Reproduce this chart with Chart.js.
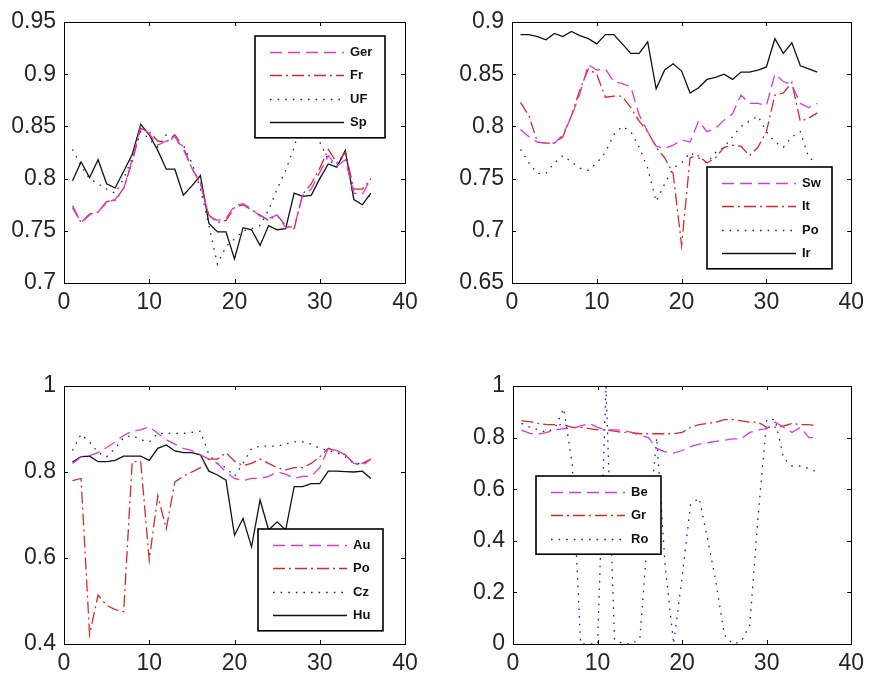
<!DOCTYPE html>
<html>
<head>
<meta charset="utf-8">
<script src="https://cdn.jsdelivr.net/npm/chart.js@4.4.1/dist/chart.umd.min.js"></script>
<style>
  body { margin: 0; background: #fff; }
  #wrap { position: relative; width: 870px; height: 675px; }
  canvas { position: absolute; }
</style>
</head>
<body>
<div id="wrap">
  <canvas id="c1" width="435" height="337" style="left:0;top:0"></canvas>
  <canvas id="c2" width="435" height="337" style="left:435px;top:0"></canvas>
  <canvas id="c3" width="435" height="338" style="left:0;top:337px"></canvas>
  <canvas id="c4" width="435" height="338" style="left:435px;top:337px"></canvas>
</div>
<script>
// x positions (1..36) and axis ticks
const periods = [1, 2, 3, 4, 5, 6, 7, 8, 9, 10, 11, 12, 13, 14, 15, 16, 17, 18,
                 19, 20, 21, 22, 23, 24, 25, 26, 27, 28, 29, 30, 31, 32, 33, 34, 35, 36];
const xTicks = [0, 10, 20, 30, 40];

// panel 1
const p1Labels = ['Ger', 'Fr', 'UF', 'Sp'];
const p1Ger = [0.772, 0.758, 0.765, 0.768, 0.777, 0.780, 0.790, 0.818, 0.850, 0.843, 0.832, 0.836, 0.840, 0.828, 0.810, 0.796, 0.764, 0.760, 0.762, 0.774, 0.776, 0.771, 0.764, 0.762, 0.765, 0.753, 0.754, 0.784, 0.790, 0.806, 0.822, 0.812, 0.818, 0.786, 0.785, 0.800];
const p1Fr  = [0.774, 0.758, 0.766, 0.768, 0.778, 0.779, 0.791, 0.816, 0.848, 0.845, 0.836, 0.835, 0.842, 0.830, 0.810, 0.795, 0.765, 0.758, 0.760, 0.772, 0.775, 0.770, 0.765, 0.760, 0.765, 0.755, 0.752, 0.785, 0.795, 0.810, 0.828, 0.815, 0.825, 0.790, 0.790, 0.800];
const p1UF  = [0.828, 0.812, 0.800, 0.795, 0.790, 0.786, 0.800, 0.820, 0.845, 0.838, 0.830, 0.842, 0.836, 0.832, 0.815, 0.790, 0.755, 0.718, 0.735, 0.742, 0.750, 0.752, 0.755, 0.770, 0.790, 0.808, 0.830, 0.860, 0.855, 0.835, 0.818, 0.812, 0.825, 0.780, 0.775, 0.785];
const p1Sp  = [0.798, 0.816, 0.801, 0.818, 0.795, 0.791, 0.807, 0.823, 0.852, 0.842, 0.827, 0.809, 0.809, 0.784, 0.793, 0.803, 0.757, 0.749, 0.749, 0.723, 0.753, 0.751, 0.736, 0.755, 0.751, 0.752, 0.786, 0.783, 0.784, 0.800, 0.814, 0.811, 0.827, 0.780, 0.775, 0.786];
const p1YTicks = [0.7, 0.75, 0.8, 0.85, 0.9, 0.95];
const p1YLabels = ['0.7', '0.75', '0.8', '0.85', '0.9', '0.95'];

// panel 2
const p2Labels = ['Sw', 'It', 'Po', 'Ir'];
const p2Sw = [0.797, 0.790, 0.785, 0.784, 0.784, 0.792, 0.809, 0.831, 0.859, 0.854, 0.855, 0.843, 0.841, 0.838, 0.811, 0.795, 0.781, 0.779, 0.782, 0.787, 0.785, 0.805, 0.795, 0.798, 0.806, 0.812, 0.830, 0.822, 0.822, 0.820, 0.850, 0.843, 0.840, 0.822, 0.818, 0.822];
const p2It = [0.823, 0.810, 0.785, 0.784, 0.784, 0.790, 0.810, 0.835, 0.855, 0.850, 0.828, 0.829, 0.829, 0.818, 0.805, 0.795, 0.780, 0.770, 0.755, 0.686, 0.770, 0.772, 0.765, 0.770, 0.780, 0.782, 0.781, 0.772, 0.780, 0.795, 0.830, 0.832, 0.842, 0.805, 0.808, 0.813];
const p2Po = [0.778, 0.765, 0.755, 0.755, 0.765, 0.772, 0.766, 0.760, 0.758, 0.765, 0.775, 0.792, 0.800, 0.795, 0.780, 0.760, 0.728, 0.745, 0.760, 0.765, 0.775, 0.770, 0.765, 0.775, 0.780, 0.790, 0.800, 0.805, 0.810, 0.795, 0.785, 0.780, 0.790, 0.795, 0.770, 0.765];
const p2Ir = [0.888, 0.888, 0.886, 0.883, 0.889, 0.886, 0.891, 0.887, 0.884, 0.879, 0.888, 0.888, 0.879, 0.870, 0.870, 0.881, 0.836, 0.854, 0.860, 0.853, 0.832, 0.837, 0.845, 0.847, 0.850, 0.845, 0.852, 0.852, 0.854, 0.857, 0.884, 0.870, 0.880, 0.858, 0.855, 0.852];
const p2YTicks = [0.65, 0.7, 0.75, 0.8, 0.85, 0.9];
const p2YLabels = ['0.65', '0.7', '0.75', '0.8', '0.85', '0.9'];

// panel 3
const p3Labels = ['Au', 'Po', 'Cz', 'Hu'];
const p3Au = [0.820, 0.835, 0.838, 0.845, 0.857, 0.870, 0.885, 0.895, 0.898, 0.905, 0.890, 0.875, 0.865, 0.855, 0.850, 0.840, 0.830, 0.820, 0.800, 0.785, 0.780, 0.785, 0.785, 0.790, 0.800, 0.795, 0.785, 0.790, 0.790, 0.810, 0.855, 0.850, 0.840, 0.820, 0.815, 0.830];
const p3Po = [0.780, 0.785, 0.422, 0.514, 0.490, 0.480, 0.475, 0.824, 0.824, 0.595, 0.745, 0.668, 0.777, 0.790, 0.800, 0.810, 0.830, 0.830, 0.845, 0.825, 0.815, 0.820, 0.830, 0.820, 0.810, 0.805, 0.810, 0.810, 0.820, 0.835, 0.855, 0.848, 0.840, 0.820, 0.820, 0.830];
const p3Cz = [0.850, 0.888, 0.870, 0.845, 0.835, 0.855, 0.880, 0.885, 0.875, 0.870, 0.890, 0.890, 0.890, 0.890, 0.892, 0.895, 0.840, 0.820, 0.810, 0.790, 0.820, 0.855, 0.860, 0.860, 0.860, 0.865, 0.870, 0.870, 0.865, 0.855, 0.850, 0.845, 0.835, 0.820, 0.820, 0.825];
const p3Hu = [0.823, 0.836, 0.837, 0.824, 0.824, 0.827, 0.837, 0.837, 0.837, 0.827, 0.855, 0.863, 0.849, 0.845, 0.845, 0.840, 0.802, 0.793, 0.781, 0.653, 0.692, 0.626, 0.735, 0.665, 0.684, 0.665, 0.766, 0.766, 0.773, 0.773, 0.802, 0.802, 0.801, 0.800, 0.802, 0.785];
const p3YTicks = [0.4, 0.6, 0.8, 1];
const p3YLabels = ['0.4', '0.6', '0.8', '1'];

// panel 4
const p4Labels = ['Be', 'Gr', 'Ro'];
const p4Be = [0.829, 0.816, 0.813, 0.820, 0.830, 0.835, 0.835, 0.845, 0.855, 0.840, 0.830, 0.830, 0.828, 0.820, 0.810, 0.800, 0.758, 0.745, 0.740, 0.750, 0.765, 0.775, 0.780, 0.785, 0.790, 0.795, 0.795, 0.820, 0.830, 0.835, 0.860, 0.840, 0.820, 0.840, 0.800, 0.800];
const p4Gr = [0.865, 0.862, 0.855, 0.850, 0.850, 0.850, 0.840, 0.840, 0.835, 0.830, 0.830, 0.825, 0.820, 0.820, 0.815, 0.815, 0.815, 0.815, 0.815, 0.820, 0.840, 0.850, 0.855, 0.860, 0.870, 0.870, 0.865, 0.860, 0.860, 0.840, 0.840, 0.845, 0.855, 0.850, 0.850, 0.845];
const p4Ro = [0.855, 0.840, 0.830, 0.820, 0.840, 0.913, 0.700, 0.000, 0.000, 0.000, 1.000, 0.020, 0.000, 0.000, 0.020, 0.450, 0.800, 0.300, 0.000, 0.260, 0.540, 0.566, 0.410, 0.240, 0.035, 0.000, 0.010, 0.073, 0.500, 0.870, 0.870, 0.720, 0.690, 0.690, 0.680, 0.665];
const p4YTicks = [0, 0.2, 0.4, 0.6, 0.8, 1];
const p4YLabels = ['0', '0.2', '0.4', '0.6', '0.8', '1'];

// line styles in legend order (matlab: --m, -.r, :b, -k)
const styles = [
  { color: '#d63ad6', dash: [12, 6] },
  { color: '#d42a2a', dash: [12, 4, 2, 4] },
  { color: '#1c1c9c', dash: [1.6, 6] },
  { color: '#111111', dash: [] }
];

const tickFont = { family: 'Liberation Sans, Arial, sans-serif', size: 23 };

// draws the matlab style box, inward ticks and legend
const matlabAxes = {
  id: 'matlabAxes',
  afterDraw(chart, args, opts) {
    const { ctx, chartArea: a, scales: { x, y } } = chart;
    ctx.save();
    ctx.strokeStyle = '#000';
    ctx.lineWidth = 1;
    ctx.setLineDash([]);
    ctx.strokeRect(Math.round(a.left) + 0.5, Math.round(a.top) + 0.5, Math.round(a.width), Math.round(a.height));
    const tl = 4;
    ctx.beginPath();
    x.ticks.forEach(t => {
      const px = Math.round(x.getPixelForValue(t.value)) + 0.5;
      ctx.moveTo(px, a.bottom); ctx.lineTo(px, a.bottom - tl);
      ctx.moveTo(px, a.top); ctx.lineTo(px, a.top + tl);
    });
    y.ticks.forEach(t => {
      const py = Math.round(y.getPixelForValue(t.value)) + 0.5;
      ctx.moveTo(a.left, py); ctx.lineTo(a.left + tl, py);
      ctx.moveTo(a.right, py); ctx.lineTo(a.right - tl, py);
    });
    ctx.stroke();

    // legend box
    const lg = opts.legend;
    const n = chart.data.datasets.length;
    const rowH = 23.6, pad = 15.5;
    const h = pad * 2 + (n - 1) * rowH;
    ctx.fillStyle = '#fff';
    ctx.fillRect(lg.x, lg.y, lg.w, h);
    ctx.lineWidth = 1.6;
    ctx.strokeRect(lg.x, lg.y, lg.w, h);
    ctx.font = 'bold 13px Liberation Sans, Arial, sans-serif';
    ctx.textBaseline = 'middle';
    chart.data.datasets.forEach((ds, i) => {
      const ry = Math.round(lg.y + pad + i * rowH) + 0.5;
      ctx.strokeStyle = ds.borderColor;
      ctx.lineWidth = ds.borderWidth;
      ctx.setLineDash(ds.borderDash);
      ctx.beginPath();
      ctx.moveTo(lg.x + 15, ry);
      ctx.lineTo(lg.x + 89, ry);
      ctx.stroke();
      ctx.setLineDash([]);
      ctx.fillStyle = '#111';
      ctx.fillText(ds.label, lg.x + 95, ry);
    });
    ctx.restore();
  }
};

function makePanel(id, box, area, yTicks, yLabels, labels, series, legend) {
  const cv = document.getElementById(id);
  return new Chart(cv, {
    type: 'line',
    data: {
      datasets: series.map((vals, i) => ({
        label: labels[i],
        data: vals.map((v, k) => ({ x: periods[k], y: v })),
        borderColor: styles[i].color,
        borderDash: styles[i].dash,
        borderWidth: 1.3,
        pointRadius: 0,
        tension: 0,
        fill: false
      }))
    },
    options: {
      responsive: false,
      animation: false,
      devicePixelRatio: 1,
      layout: {
        padding: { top: area.top - box.top, right: box.left + box.w - area.right, left: 0, bottom: 0 }
      },
      scales: {
        x: {
          type: 'linear', min: 0, max: 40,
          afterBuildTicks: s => { s.ticks = xTicks.map(v => ({ value: v })); },
          afterFit: s => { s.height = box.top + box.h - area.bottom; },
          grid: { display: false, drawTicks: false },
          border: { display: false },
          ticks: { font: tickFont, color: '#262626', padding: 6, maxRotation: 0, autoSkip: false }
        },
        y: {
          type: 'linear', min: yTicks[0], max: yTicks[yTicks.length - 1],
          afterBuildTicks: s => { s.ticks = yTicks.map(v => ({ value: v })); },
          afterFit: s => { s.width = area.left - box.left; },
          grid: { display: false, drawTicks: false },
          border: { display: false },
          ticks: {
            font: tickFont, color: '#262626', padding: 8, autoSkip: false,
            callback: v => yLabels[yTicks.indexOf(v)]
          }
        }
      },
      plugins: {
        legend: { display: false },
        tooltip: { enabled: false },
        matlabAxes: { legend: { x: legend.x - box.left, y: legend.y - box.top, w: legend.w } }
      }
    },
    plugins: [matlabAxes]
  });
}

makePanel('c1', { left: 0, top: 0, w: 435, h: 337 }, { left: 64, top: 22, right: 405, bottom: 283 },
  p1YTicks, p1YLabels, p1Labels, [p1Ger, p1Fr, p1UF, p1Sp], { x: 255, y: 36, w: 130 });
makePanel('c2', { left: 435, top: 0, w: 435, h: 337 }, { left: 512, top: 22, right: 853, bottom: 283 },
  p2YTicks, p2YLabels, p2Labels, [p2Sw, p2It, p2Po, p2Ir], { x: 707, y: 167, w: 125 });
makePanel('c3', { left: 0, top: 337, w: 435, h: 338 }, { left: 64, top: 386, right: 405, bottom: 644 },
  p3YTicks, p3YLabels, p3Labels, [p3Au, p3Po, p3Cz, p3Hu], { x: 258, y: 529, w: 125 });
makePanel('c4', { left: 435, top: 337, w: 435, h: 338 }, { left: 513, top: 386, right: 855, bottom: 644 },
  p4YTicks, p4YLabels, p4Labels, [p4Be, p4Gr, p4Ro], { x: 536, y: 476, w: 125 });
</script>
</body>
</html>
